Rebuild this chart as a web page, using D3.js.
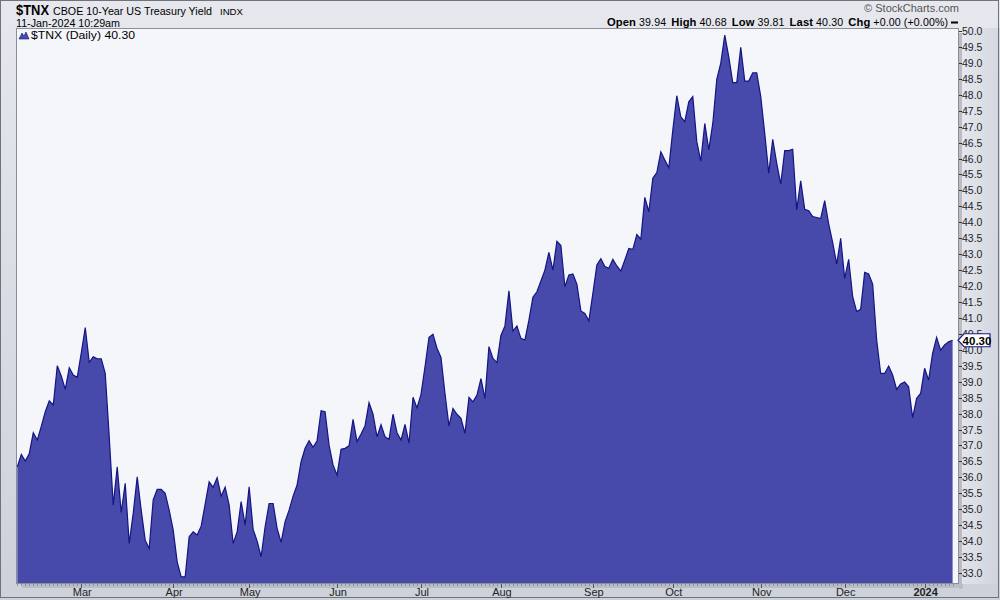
<!DOCTYPE html>
<html><head><meta charset="utf-8">
<script src="https://cdn.jsdelivr.net/npm/d3@7/dist/d3.min.js"></script>
<style>
body{margin:0;padding:0;background:#fff;}
svg{display:block;}
text{font-family:"Liberation Sans",Arial,sans-serif;}
</style></head>
<body>
<svg id="chart" width="1000" height="600"></svg>
<script>
// ---- data ----
const startDate = "2023-02-06";
const holidays = ["2023-02-20","2023-04-07","2023-05-29","2023-06-19","2023-07-04","2023-09-04","2023-11-23","2023-12-25","2024-01-01"];
const closes = [
36.33,36.72,36.51,36.75,37.40,37.17,37.60,38.06,38.40,38.27,
39.50,39.18,38.76,39.44,39.21,39.14,39.90,40.70,39.61,39.78,
39.72,39.72,39.26,37.27,35.13,36.33,34.90,35.81,33.93,34.87,
36.02,34.97,34.03,33.77,35.29,35.62,35.62,35.50,34.97,34.35,
33.35,32.88,32.88,34.14,34.29,34.19,34.47,35.16,35.86,35.69,
35.99,35.41,35.69,35.13,33.93,34.29,35.24,34.50,35.70,34.37,
34.00,33.51,34.45,35.18,35.18,34.40,33.96,34.61,34.97,35.41,
35.76,36.49,36.91,37.15,36.94,37.15,38.09,38.06,37.01,36.39,
36.07,36.88,36.91,36.99,37.82,37.12,37.36,37.62,38.34,37.98,
37.27,37.65,37.27,37.19,37.98,37.40,37.17,37.66,37.07,38.51,
38.18,38.60,39.47,40.39,40.49,40.05,39.76,38.63,37.61,38.16,
37.98,37.85,37.38,38.51,38.37,38.58,39.10,38.48,40.10,39.73,
39.60,40.45,40.75,41.85,40.59,40.75,40.36,40.31,40.93,41.65,
41.82,42.16,42.50,43.06,42.50,43.40,43.27,41.98,42.35,42.38,
42.06,41.22,41.14,40.91,41.77,42.66,42.86,42.61,42.56,42.84,
42.63,42.47,42.82,43.18,43.15,43.62,43.47,44.78,44.33,45.38,
45.56,46.21,45.95,45.71,46.89,47.97,47.31,47.16,47.78,47.94,
46.53,45.92,47.10,46.27,47.10,48.48,48.99,49.87,49.19,48.38,
48.38,49.49,48.43,48.43,48.69,48.69,47.94,46.79,45.54,46.60,
45.85,45.20,46.25,46.25,46.29,44.39,45.30,44.41,44.36,44.18,
44.15,44.12,44.68,43.95,43.36,42.69,43.50,42.24,42.84,41.67,
41.20,41.27,42.43,42.38,42.06,40.31,39.26,39.26,39.49,39.21,
38.76,38.93,38.99,38.84,37.87,38.48,38.63,39.42,39.05,39.89,
40.39,39.99,40.15,40.25,40.30
];
const yTicks = [33.0,33.5,34.0,34.5,35.0,35.5,36.0,36.5,37.0,37.5,38.0,38.5,39.0,39.5,40.0,40.5,41.0,41.5,42.0,42.5,43.0,43.5,44.0,44.5,45.0,45.5,46.0,46.5,47.0,47.5,48.0,48.5,49.0,49.5,50.0];
const monthNames = ["Jan","Feb","Mar","Apr","May","Jun","Jul","Aug","Sep","Oct","Nov","Dec"];
const quoteLabels = ["Open","High","Low","Last","Chg"];
const quoteValues = ["39.94","40.68","39.81","40.30","+0.00 (+0.00%)"];

// ---- trading calendar ----
const dates = [];
{
  let d = new Date(startDate + "T12:00:00Z");
  const hs = new Set(holidays);
  while (dates.length < closes.length) {
    const wd = d.getUTCDay();
    const iso = d.toISOString().slice(0,10);
    if (wd !== 0 && wd !== 6 && !hs.has(iso)) dates.push(new Date(d));
    d.setUTCDate(d.getUTCDate()+1);
  }
}
const monthStarts = [];
dates.forEach((d,i)=>{ if(i>0 && d.getUTCMonth()!==dates[i-1].getUTCMonth()) monthStarts.push(i); });

// ---- layout ----
const svg = d3.select("#chart");
const W=1000,H=600;
const plot = {l:16, t:28, r:959, b:584};
const x = d3.scaleLinear().domain([0, closes.length-1]).range([17.3, 952.6]);
const y = d3.scaleLinear().domain([33,50]).range([573,31]);

const defs = svg.append("defs");
const bg = defs.append("linearGradient").attr("id","bg").attr("x1",0).attr("y1",0).attr("x2",0).attr("y2",1);
bg.append("stop").attr("offset","0%").attr("stop-color","#e6e8ee");
bg.append("stop").attr("offset","100%").attr("stop-color","#cdd1da");
const bgr = defs.append("linearGradient").attr("id","bgr").attr("x1",0).attr("y1",0).attr("x2",1).attr("y2",0);
bgr.append("stop").attr("offset","0%").attr("stop-color","#e8eaef");
bgr.append("stop").attr("offset","100%").attr("stop-color","#cfd3dc");
defs.append("clipPath").attr("id","clip").append("rect")
  .attr("x",plot.l).attr("y",plot.t).attr("width",plot.r-plot.l).attr("height",plot.b-plot.t);

svg.append("rect").attr("width",W).attr("height",H).attr("fill","url(#bg)");
svg.append("rect").attr("x",plot.r).attr("y",plot.t).attr("width",W-plot.r).attr("height",plot.b-plot.t).attr("fill","url(#bgr)").attr("opacity",0.8);
svg.append("rect").attr("x",0.5).attr("y",0.5).attr("width",998).attr("height",597).attr("fill","none").attr("stroke","#6f737b");

// shadow
svg.append("rect").attr("x",plot.l+6).attr("y",plot.b).attr("width",plot.r-plot.l-2).attr("height",4).attr("fill","#b9bdc6");
svg.append("rect").attr("x",plot.r).attr("y",plot.t+5).attr("width",3).attr("height",plot.b-plot.t).attr("fill","#b9bdc6");

// plot bg
svg.append("rect").attr("x",plot.l).attr("y",plot.t).attr("width",plot.r-plot.l).attr("height",plot.b-plot.t).attr("fill","#f5f6fa");

// area
const g = svg.append("g").attr("clip-path","url(#clip)");
g.append("path").datum(closes)
  .attr("d", d3.area().x((d,i)=>x(i)).y0(plot.b).y1(d=>y(d)))
  .attr("fill","#484aab");
g.append("path").datum(closes)
  .attr("d", d3.line().x((d,i)=>x(i)).y(d=>y(d)))
  .attr("fill","none").attr("stroke","#141483").attr("stroke-width",1.2);

// frame
svg.append("rect").attr("x",plot.l+0.5).attr("y",plot.t+0.5).attr("width",plot.r-plot.l-1).attr("height",plot.b-plot.t-1)
  .attr("fill","none").attr("stroke","#8a8e96");

// daily ticks
svg.append("g").selectAll("line").data(closes.map((d,i)=>i)).join("line")
  .attr("x1",i=>Math.round(x(i))+0.5).attr("x2",i=>Math.round(x(i))+0.5)
  .attr("y1",plot.b).attr("y2",plot.b+2).attr("stroke","#8d9199").attr("stroke-width",1);
// month ticks + labels
const xa = svg.append("g");
xa.selectAll("line").data(monthStarts).join("line")
  .attr("x1",i=>Math.round(x(i))+0.5).attr("x2",i=>Math.round(x(i))+0.5)
  .attr("y1",plot.b).attr("y2",plot.b+4).attr("stroke","#555");
xa.selectAll("text").data(monthStarts).join("text")
  .attr("x",i=>x(i)+1).attr("y",596).attr("text-anchor","middle")
  .attr("font-size",11).attr("fill","#222")
  .attr("font-weight",i=>dates[i].getUTCMonth()===0?"bold":"normal")
  .text(i=>dates[i].getUTCMonth()===0 ? String(dates[i].getUTCFullYear()) : monthNames[dates[i].getUTCMonth()]);

// y axis
const ya = svg.append("g");
ya.selectAll("line").data(yTicks).join("line")
  .attr("x1",plot.r).attr("x2",plot.r+3).attr("y1",d=>Math.round(y(d))+0.5).attr("y2",d=>Math.round(y(d))+0.5)
  .attr("stroke","#333");
ya.selectAll("text").data(yTicks).join("text")
  .attr("x",plot.r+3).attr("y",d=>y(d)+4).attr("font-size",10.5).attr("fill","#222")
  .text(d=>d.toFixed(1));

// last value tag
const lastV = closes[closes.length-1];
const ty = y(lastV);
svg.append("path")
  .attr("d",`M${plot.r-1},${ty} L${plot.r+5},${ty-6.5} L${plot.r+31},${ty-6.5} L${plot.r+31},${ty+6.5} L${plot.r+5},${ty+6.5} Z`)
  .attr("fill","#fff").attr("stroke","#1a1a8c").attr("stroke-width",1.2);
svg.append("text").attr("x",plot.r+18).attr("y",ty+4.5).attr("text-anchor","middle")
  .attr("font-size",11.5).attr("font-weight","bold").attr("fill","#000").text(lastV.toFixed(2));

// header
svg.append("text").attr("x",16).attr("y",15).attr("font-size",14).attr("font-weight","bold").attr("fill","#000")
  .attr("textLength",33).attr("lengthAdjust","spacingAndGlyphs").text("$TNX");
svg.append("text").attr("x",53).attr("y",15).attr("font-size",10.8).attr("fill","#000")
  .attr("textLength",159).attr("lengthAdjust","spacingAndGlyphs").text("CBOE 10-Year US Treasury Yield");
svg.append("text").attr("x",220).attr("y",15).attr("font-size",9.5).attr("fill","#000")
  .attr("textLength",23).attr("lengthAdjust","spacingAndGlyphs").text("INDX");
svg.append("text").attr("x",16).attr("y",27).attr("font-size",11).attr("fill","#000")
  .attr("textLength",104).attr("lengthAdjust","spacingAndGlyphs").text("11-Jan-2024 10:29am");

svg.append("text").attr("x",959).attr("y",12).attr("text-anchor","end").attr("font-size",11).attr("fill","#555").text("\u00A9 StockCharts.com");
const q = svg.append("text").attr("x",607).attr("y",26).attr("font-size",10.6).attr("fill","#000")
  .attr("textLength",341).attr("lengthAdjust","spacing");
quoteLabels.forEach((k,i)=>{
  q.append("tspan").attr("font-weight","bold").attr("font-size",11.2).attr("dx",i?5:0).text(k);
  q.append("tspan").attr("dx",3).text(quoteValues[i]);
});
svg.append("line").attr("x1",951).attr("x2",958).attr("y1",22.5).attr("y2",22.5).attr("stroke","#000").attr("stroke-width",2);

// legend
svg.append("path").attr("d","M19,39 L22,33 L24,36 L26,32 L29,39 Z").attr("fill","#484aab").attr("stroke","#141483").attr("stroke-width",0.6);
svg.append("text").attr("x",31).attr("y",39).attr("font-size",11).attr("fill","#000")
  .attr("textLength",104).attr("lengthAdjust","spacingAndGlyphs").text("$TNX (Daily) " + lastV.toFixed(2));
</script>
</body></html>
